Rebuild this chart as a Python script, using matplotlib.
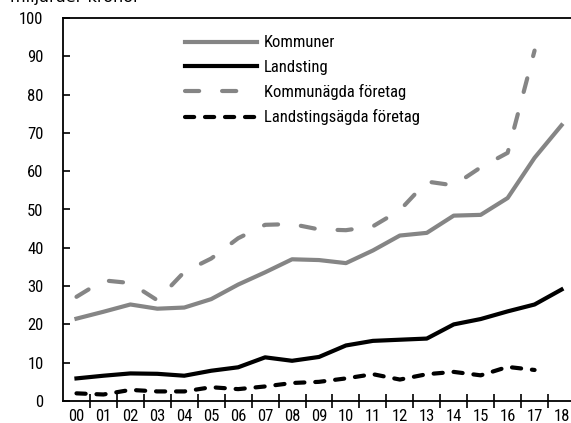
import numpy as np
import matplotlib
matplotlib.use('Agg')
import matplotlib.pyplot as plt
from matplotlib.ticker import FixedLocator

plt.rcParams['font.family'] = ['Roboto Condensed', 'DejaVu Sans']
plt.rcParams['font.stretch'] = 'condensed'

years = ['00', '01', '02', '03', '04', '05', '06', '07', '08', '09',
         '10', '11', '12', '13', '14', '15', '16', '17', '18']
kommuner = [21.5, 23.3, 25.2, 24.1, 24.4, 26.6, 30.4, 33.6, 37.0, 36.8,
            36.0, 39.3, 43.2, 43.9, 48.4, 48.6, 53.0, 63.5, 72.0]
landsting = [5.9, 6.6, 7.2, 7.1, 6.6, 7.9, 8.8, 11.4, 10.5, 11.5,
             14.5, 15.7, 16.0, 16.3, 20.0, 21.4, 23.4, 25.2, 29.1]
kommunagda = [27.2, 31.5, 30.8, 26.3, 33.7, 37.2, 42.5, 46.0, 46.2, 44.8,
              44.6, 45.6, 49.8, 57.3, 56.3, 61.0, 64.8, 91.5]
landstingsagda = [2.0, 1.7, 2.9, 2.5, 2.5, 3.6, 3.1, 3.8, 4.7, 5.0,
                  5.9, 7.0, 5.6, 7.0, 7.6, 6.7, 8.9, 8.1]

grey = '#858585'
x = np.arange(len(years))

fig = plt.figure(figsize=(5.71, 4.23), dpi=100)
ax = fig.add_axes([63 / 571, 22 / 423, 512 / 571, 383 / 423])

ax.plot(x, kommuner, color=grey, lw=3, label='Kommuner')
ax.plot(x, landsting, color='black', lw=3, label='Landsting')
ax.plot(x[:len(kommunagda)], kommunagda, color=grey, lw=3, ls=(0, (3.4, 5.5)),
        dash_capstyle='round', label='Kommunägda företag')
ax.plot(x[:len(landstingsagda)], landstingsagda, color='black', lw=3,
        ls=(0, (2.2, 2.6)), dash_capstyle='round', label='Landstingsägda företag')

ax.set_xlim(-0.5, len(years) - 0.5)
ax.set_ylim(0, 100)
ax.set_yticks(np.arange(0, 101, 10))
ax.set_xticks(x)
ax.set_xticklabels(years)
ax.xaxis.set_minor_locator(FixedLocator(x[:-1] + 0.5))
ax.tick_params(axis='x', which='major', length=0, pad=5.5, labelsize=12)
ax.tick_params(axis='x', which='minor', direction='inout', length=10, width=1.2)
ax.tick_params(axis='y', direction='in', length=5, width=1.2, pad=14, labelsize=12)
ax.spines['right'].set_visible(False)
for s in ['top', 'left', 'bottom']:
    ax.spines[s].set_linewidth(1.3)

ax.legend(loc='upper left', bbox_to_anchor=(0.225, 0.972), frameon=False,
          handlelength=4.3, handletextpad=0.42, labelspacing=0.56, fontsize=12,
          borderaxespad=0)

# title sits mostly above the canvas in the reference
fig.text(10 / 571, 1 - 2 / 423, 'miljarder kronor', fontsize=11.5,
         family='DejaVu Sans', stretch='normal', va='baseline')

fig.savefig('out.png', dpi=100)
